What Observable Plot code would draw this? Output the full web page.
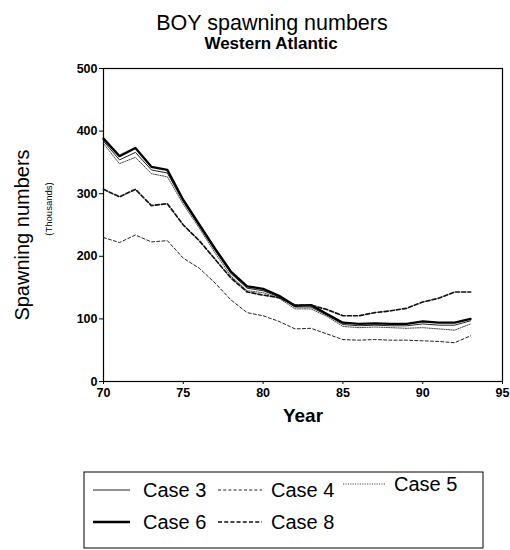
<!DOCTYPE html>
<html><head><meta charset="utf-8">
<script src="https://cdn.jsdelivr.net/npm/d3@7"></script>
<script src="https://cdn.jsdelivr.net/npm/@observablehq/plot@0.6"></script>
<style>body{margin:0;background:#fff;} svg{display:block;}</style>
</head><body>
<div id="chart"></div>
<script>
const years = [70,71,72,73,74,75,76,77,78,79,80,81,82,83,84,85,86,87,88,89,90,91,92,93];
const case3 = [384,354,366,338,333,287,248,209,172,149,145,135,119,119,106,91,89,90,89,89,92,90,90,97];
const case4 = [230,222,234,223,225,197,181,157,130,110,105,96,84,85,76,67,66,67,66,66,65,64,62,73];
const case5 = [380,348,358,332,327,283,245,205,168,145,142,133,116,116,104,88,86,87,86,85,86,84,82,92];
const case6 = [388,360,373,343,338,290,251,212,175,152,148,137,121,122,108,94,92,93,92,92,96,94,94,100];
const case8 = [307,295,307,281,284,250,225,195,165,143,138,134,122,122,115,105,105,110,113,117,127,133,143,143];
const xTicks = [70,75,80,85,90,95];
const yTicks = [0,100,200,300,400,500];
const seriesNames = ["Case 3","Case 4","Case 5","Case 6","Case 8"];
const seriesValues = [case3, case4, case5, case6, case8];

const styles = {
  "Case 3": {stroke:"#222", strokeWidth:1, strokeDasharray:null},
  "Case 4": {stroke:"#222", strokeWidth:1, strokeDasharray:"3,2.2"},
  "Case 5": {stroke:"#333", strokeWidth:0.9, strokeDasharray:"1.2,1.2"},
  "Case 6": {stroke:"#000", strokeWidth:2.3, strokeDasharray:null},
  "Case 8": {stroke:"#111", strokeWidth:1.7, strokeDasharray:"4,2.2"}
};

const data = [];
seriesNames.forEach((name, i) => years.forEach((y, j) => data.push({series:name, year:y, value:seriesValues[i][j]})));

const lineMarks = seriesNames.map(name => Plot.line(data.filter(d => d.series === name), {
  x:"year", y:"value", stroke: styles[name].stroke, strokeWidth: styles[name].strokeWidth,
  strokeDasharray: styles[name].strokeDasharray || undefined, curve:"linear"
}));

const font = "'Liberation Sans', Arial, sans-serif";

const plot = Plot.plot({
  width:510, height:550,
  marginTop:68, marginBottom:169, marginLeft:103, marginRight:8,
  style:{fontFamily:font, fontSize:"12.5px", fontWeight:"bold", color:"#000", background:"#fff"},
  x:{domain:[70,95], ticks:xTicks, tickSize:3, tickPadding:4, label:null, tickFormat:d=>String(d)},
  y:{domain:[0,500], ticks:yTicks, tickSize:4, tickPadding:2, label:null, tickFormat:d=>String(d)},
  marks:[
    Plot.frame({stroke:"#000", strokeWidth:1.2}),
    ...lineMarks,
    Plot.text(["BOY spawning numbers"], {frameAnchor:"top", dx:-31, dy:-39, fontSize:21.5, fontWeight:"normal", text:d=>d, textAnchor:"middle", lineAnchor:"bottom"}),
    Plot.text(["Western Atlantic"], {frameAnchor:"top", dx:-32, dy:-20, fontSize:17, fontWeight:"bold", text:d=>d, textAnchor:"middle", lineAnchor:"bottom"}),
    Plot.text(["Spawning numbers"], {frameAnchor:"left", dx:-81, dy:10, rotate:-90, fontSize:20, fontWeight:"normal", text:d=>d, textAnchor:"middle"}),
    Plot.text(["(Thousands)"], {frameAnchor:"left", dx:-55, dy:-16, rotate:-90, fontSize:9.5, fontWeight:"normal", text:d=>d, textAnchor:"middle"}),
    Plot.text(["Year"], {frameAnchor:"bottom", dy:40, fontSize:19, fontWeight:"bold", text:d=>d, textAnchor:"middle", lineAnchor:"bottom"})
  ]
});
document.getElementById("chart").appendChild(plot);

// Legend box
const svg = d3.select(plot);
const lg = svg.append("g").attr("font-family", font).attr("font-size", 20).attr("font-weight", "normal").attr("text-anchor","start");
lg.append("rect").attr("x",84).attr("y",472).attr("width",399).attr("height",76).attr("fill","none").attr("stroke","#000").attr("stroke-width",1);
const legendItems = [
  {name:"Case 3", x:93, y:490},
  {name:"Case 4", x:218, y:490},
  {name:"Case 5", x:343, y:484},
  {name:"Case 6", x:93, y:522},
  {name:"Case 8", x:218, y:522}
];
const lineLen = {"Case 3":37,"Case 4":44,"Case 5":42,"Case 6":37,"Case 8":44};
legendItems.forEach(it => {
  const s = styles[it.name];
  lg.append("line").attr("x1",it.x).attr("x2",it.x+lineLen[it.name]).attr("y1",it.y).attr("y2",it.y)
    .attr("stroke",s.stroke).attr("stroke-width",s.strokeWidth).attr("stroke-dasharray",s.strokeDasharray);
  lg.append("text").attr("x",it.x+lineLen[it.name]+(it.name==="Case 3"||it.name==="Case 6"?13:9)).attr("y",it.y).attr("dy","0.35em").text(it.name);
});
</script>
</body></html>
